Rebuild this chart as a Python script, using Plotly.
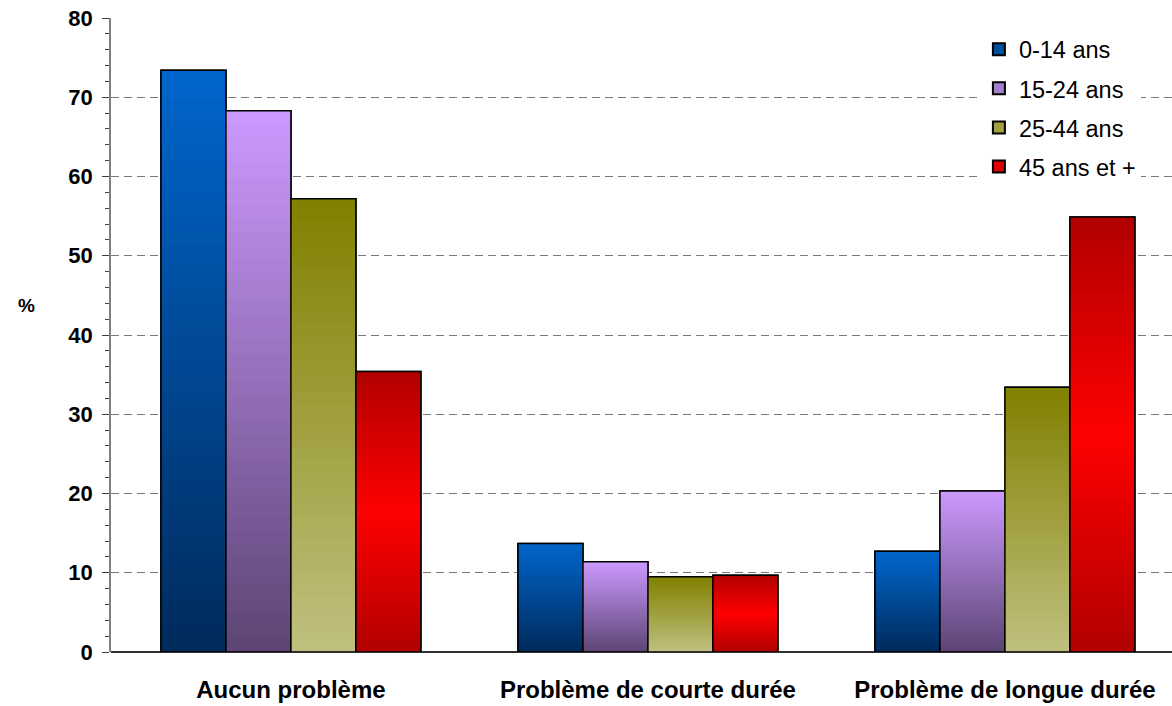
import plotly.graph_objects as go

categories = ["Aucun problème", "Problème de courte durée", "Problème de longue durée"]
series_names = ["0-14 ans", "15-24 ans", "25-44 ans", "45 ans et +"]
v_0_14 = [73.4, 13.7, 12.7]
v_15_24 = [68.3, 11.4, 20.3]
v_25_44 = [57.2, 9.5, 33.4]
v_45_plus = [35.4, 9.7, 54.9]
y_ticks = [0, 10, 20, 30, 40, 50, 60, 70, 80]

series_values = [v_0_14, v_15_24, v_25_44, v_45_plus]

# gradient stops (fraction of bar height from bottom, color)
gradients = [
    [(0.0, (0x00, 0x2A, 0x5C)), (1.0, (0x00, 0x66, 0xCC))],
    [(0.0, (0x5C, 0x45, 0x74)), (1.0, (0xCC, 0x99, 0xFF))],
    [(0.0, (0xC0, 0xC0, 0x80)), (1.0, (0x80, 0x80, 0x00))],
    [(0.0, (0xB0, 0x00, 0x00)), (0.5, (0xFF, 0x00, 0x00)), (1.0, (0xB0, 0x00, 0x00))],
]
mid_colors = ["#0050A0", "#A37FCC", "#A0A040", "#E00000"]

FONT = "Liberation Sans, Arial, sans-serif"


def grad_color(stops, t):
    for (t0, c0), (t1, c1) in zip(stops[:-1], stops[1:]):
        if t0 <= t <= t1:
            f = (t - t0) / (t1 - t0) if t1 > t0 else 0
            c = [round(a + (b - a) * f) for a, b in zip(c0, c1)]
            return "rgb(%d,%d,%d)" % tuple(c)
    c = stops[-1][1]
    return "rgb(%d,%d,%d)" % c


N = 40
fig = go.Figure()
for name, vals, stops, mc in zip(series_names, series_values, gradients, mid_colors):
    # legend / base bar
    fig.add_trace(go.Bar(
        x=categories, y=vals, name=name, offsetgroup=name, legendgroup=name,
        marker=dict(color=mc, line=dict(color="black", width=1.5)),
    ))
    # gradient slices: each slice goes from its base to the top of the bar
    for k in range(N):
        frac = k / N
        fig.add_trace(go.Bar(
            x=categories,
            y=[v * (1 - frac) for v in vals],
            base=[v * frac for v in vals],
            offsetgroup=name, legendgroup=name, showlegend=False,
            marker=dict(color=grad_color(stops, (k + 0.5) / N), line=dict(width=0)),
            hoverinfo="skip",
        ))
    # outline on top
    fig.add_trace(go.Bar(
        x=categories, y=vals, offsetgroup=name, legendgroup=name, showlegend=False,
        marker=dict(color="rgba(0,0,0,0)", line=dict(color="black", width=1.5)),
        hoverinfo="skip",
    ))

fig.update_layout(
    width=1172, height=706,
    margin=dict(l=111, r=0, t=18, b=54),
    paper_bgcolor="white", plot_bgcolor="white",
    barmode="group", bargap=0.272, bargroupgap=0,
    font=dict(family=FONT, color="black"),
    showlegend=True,
    legend=dict(
        x=0.818, y=0.985, xanchor="left", yanchor="top",
        bgcolor="white", font=dict(size=23.5, family=FONT),
        tracegroupgap=5.5, itemsizing="constant",
    ),
    xaxis=dict(
        range=[-0.504, 2.468],
        showgrid=False, showline=False, ticks="",
        tickfont=dict(size=24, family=FONT, weight="bold"),
        ticklabelstandoff=21,
    ),
    yaxis=dict(
        range=[0, 80], tickvals=y_ticks,
        showgrid=True, gridcolor="#7a7a7a", griddash="8px,5px", gridwidth=1.2,
        zeroline=True, zerolinecolor="#303030", zerolinewidth=1.5,
        showline=True, linecolor="#808080", linewidth=1.5,
        ticks="outside", ticklen=7, tickcolor="#404040", tickwidth=1,
        minor=dict(dtick=2, ticks="outside", ticklen=4, tickcolor="#404040", showgrid=False),
        tickfont=dict(size=22, family=FONT, weight="bold"),
        ticklabelstandoff=5,
    ),
    annotations=[dict(
        text="%", xref="paper", yref="paper", x=-0.08, y=0.547,
        xanchor="center", yanchor="middle", showarrow=False,
        font=dict(size=19, family=FONT, weight="bold"),
    )],
)

fig.write_html("out.html", config={"displayModeBar": False},
               post_script="document.body.style.margin='0';")
